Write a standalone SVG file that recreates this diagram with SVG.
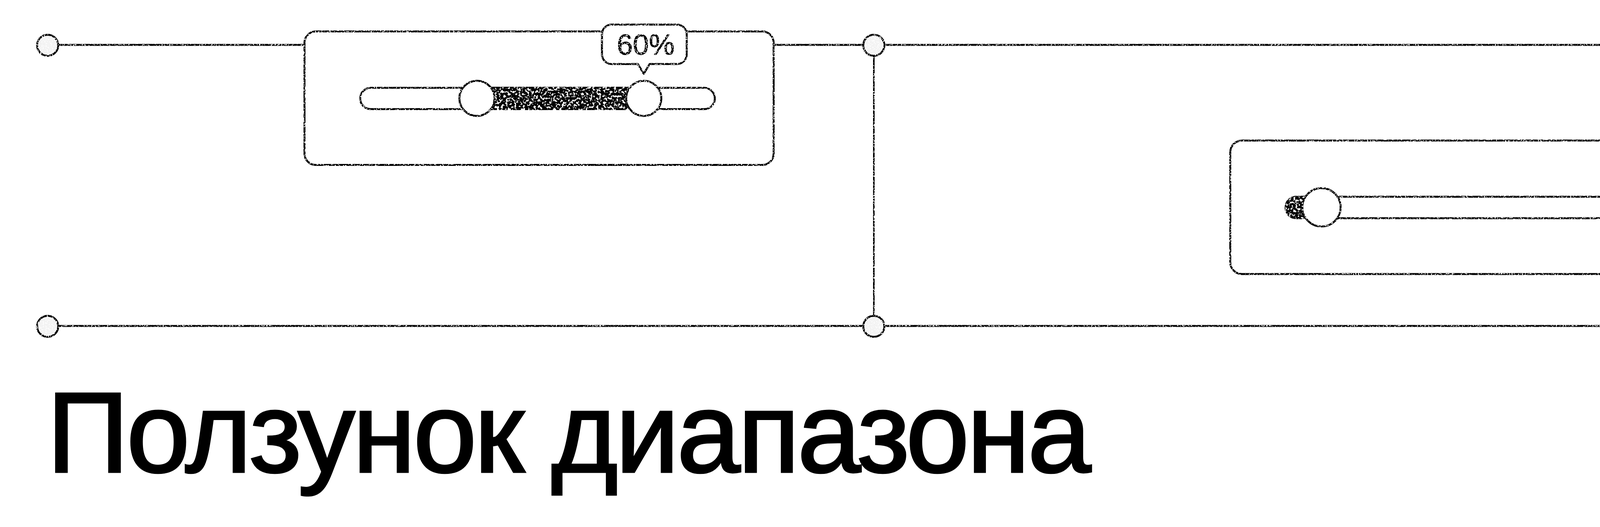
<svg xmlns="http://www.w3.org/2000/svg" width="4473" height="1350" viewBox="0 0 4473 1350">
  <style>
    .ln { stroke: #000; stroke-width: 5; fill: none; }
    .pt { fill: #f3f3f3; stroke: #000; stroke-width: 5; }
    .box { fill: #fff; stroke: #000; stroke-width: 5; }
    .track { fill: #fff; stroke: #000; stroke-width: 5; }
    .knob { fill: #fff; stroke: #000; stroke-width: 5; }
    .fillbar { fill: #000; }
    .tip { fill: #fff; stroke: #000; stroke-width: 5; stroke-linejoin: round; }
    .tiptext { font-family: "Liberation Sans", Arial, sans-serif; font-size: 74px; fill: #000; stroke: #000; stroke-width: 1; }
    .title { font-family: "Liberation Sans", Arial, sans-serif; font-size: 292px; fill: #000; stroke: #000; stroke-width: 5; letter-spacing: -6px; }
  </style>
  <defs>
    <filter id="grunge" filterUnits="userSpaceOnUse" x="0" y="0" width="4473" height="1000">
      <feTurbulence type="fractalNoise" baseFrequency="0.3" numOctaves="2" seed="7" result="n"/>
      <feColorMatrix in="n" type="matrix" values="0 0 0 0 1  0 0 0 0 1  0 0 0 0 1  0 0 0 25 -15" result="holes"/>
      <feComposite in="holes" in2="SourceAlpha" operator="in" result="specks"/>
      <feMerge><feMergeNode in="SourceGraphic"/><feMergeNode in="specks"/></feMerge>
    </filter>
    <filter id="grungeDark" filterUnits="userSpaceOnUse" x="0" y="0" width="4473" height="1000">
      <feTurbulence type="fractalNoise" baseFrequency="0.18" numOctaves="3" seed="11" result="n"/>
      <feColorMatrix in="n" type="matrix" values="0 0 0 0 1  0 0 0 0 1  0 0 0 0 1  0 0 0 16 -8.9" result="holes"/>
      <feComposite in="holes" in2="SourceAlpha" operator="in" result="specks"/>
      <feMerge><feMergeNode in="SourceGraphic"/><feMergeNode in="specks"/></feMerge>
    </filter>
  </defs>
  <rect width="4473" height="1350" fill="#fff"/>

  <g filter="url(#grunge)">
    <g id="connectors">
      <line class="ln" x1="122" y1="115" x2="4352" y2="115"/>
      <line class="ln" x1="122" y1="835" x2="4352" y2="835"/>
      <line class="ln" x1="2237" y1="116" x2="2237" y2="836" style="stroke-width:4"/>
    </g>

    <g id="point-top-left"><circle class="pt" cx="122" cy="116" r="27"/></g>
    <g id="point-top-mid"><circle class="pt" cx="2237" cy="116" r="27"/></g>
    <g id="point-top-right"><circle class="pt" cx="4352" cy="116" r="27"/></g>
    <g id="point-bottom-left"><circle class="pt" cx="122" cy="836" r="27"/></g>
    <g id="point-bottom-mid"><circle class="pt" cx="2237" cy="836" r="27"/></g>
    <g id="point-bottom-right"><circle class="pt" cx="4352" cy="836" r="27"/></g>

    <g id="range-slider">
      <rect class="box" x="779.5" y="80.5" width="1201" height="342" rx="29"/>
      <rect class="track" x="922" y="225" width="908" height="54.5" rx="27.25"/>
    </g>

    <g id="single-slider">
      <rect class="box" x="3149.5" y="360" width="1201" height="342" rx="30"/>
      <rect class="track" x="3291" y="504" width="911" height="55" rx="27.5"/>
    </g>
  </g>

  <g id="range-fill" filter="url(#grungeDark)">
    <rect class="fillbar" x="1221" y="222.5" width="427" height="59.5"/>
  </g>
  <g id="single-fill" filter="url(#grungeDark)">
    <path class="fillbar" d="M3383 504 L3318.5 504 A27.5 27.5 0 0 0 3318.5 559 L3383 559 Z"/>
  </g>

  <g filter="url(#grunge)">
    <g id="range-knob-low"><circle class="knob" cx="1221" cy="252" r="45"/></g>
    <g id="range-knob-high"><circle class="knob" cx="1648" cy="252" r="45"/></g>
    <g id="single-knob"><circle class="knob" cx="3383" cy="531" r="49"/></g>

    <g id="tooltip">
      <path class="tip" d="M1566 63 H1733 A25 25 0 0 1 1758 88 V139 A25 25 0 0 1 1733 164 H1663 L1648 189 L1633 164 H1566 A25 25 0 0 1 1541 139 V88 A25 25 0 0 1 1566 63 Z"/>
      <text class="tiptext" x="1653" y="140" text-anchor="middle">60%</text>
    </g>
  </g>

  <g id="title">
    <text class="title" x="120" y="1209">Ползунок диапазона</text>
  </g>
</svg>
